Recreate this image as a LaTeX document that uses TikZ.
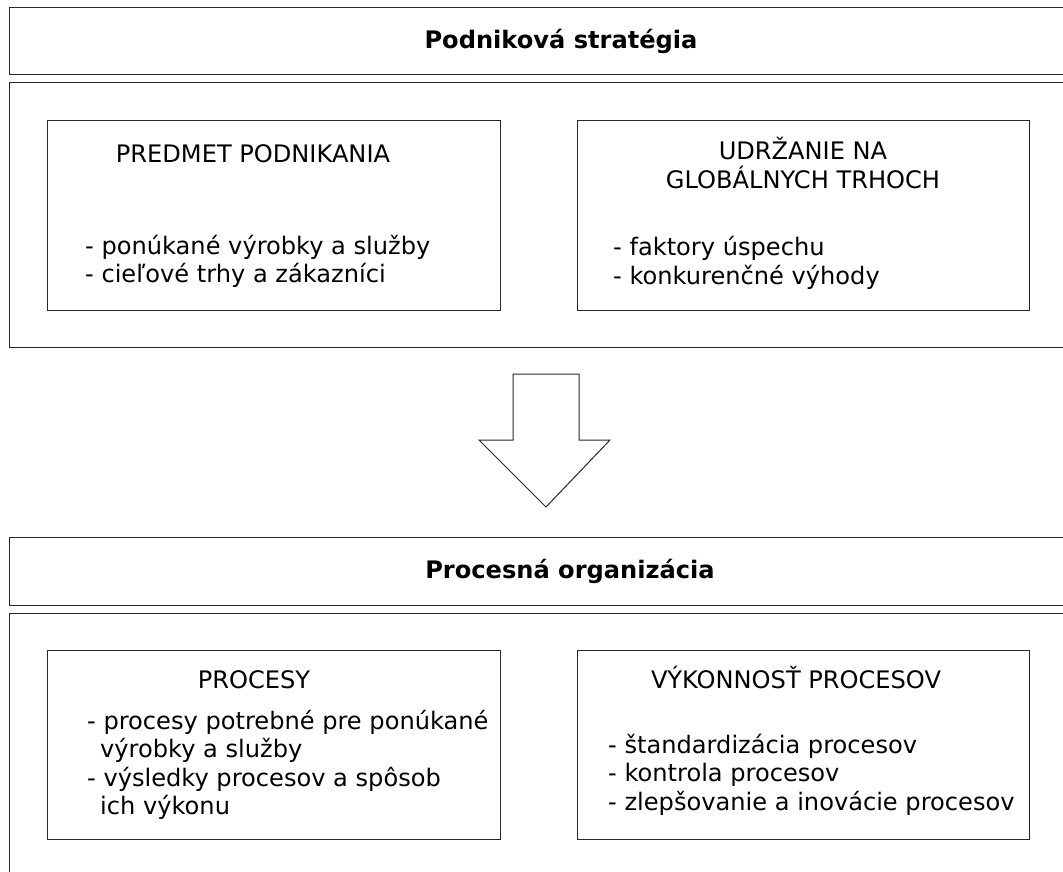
\documentclass[tikz,border=0pt]{standalone}
\usepackage{fontspec}
\setmainfont{DejaVu Sans}
\usetikzlibrary{positioning}
\definecolor{lineGray}{RGB}{40,40,40}
\tikzset{
  outerbox/.style={draw=lineGray, line width=1pt, inner sep=0pt},
  titlebox/.style={outerbox, font=\bfseries},
  innerbox/.style={draw=lineGray, line width=1pt, inner sep=0pt},
  txt/.style={inner sep=0pt, anchor=base west},
  head/.style={inner sep=0pt, anchor=base}
}

\begin{document}
\begin{tikzpicture}[
  x=1pt, y=-1pt,
  every node/.append style={font=\fontsize{24.1}{28.5}\selectfont}
]
\useasboundingbox (0,0) rectangle (1063,872);
\clip (0,0) rectangle (1063,872);

% Strategy part
\node[titlebox, minimum width=1106pt, minimum height=67pt] (strat) at (562,41.5) {};
\node[head, font=\fontsize{24.1}{28.5}\selectfont\bfseries] (strattxt) at (561,48.5) {Podniková stratégia};
\node[outerbox, minimum width=1106pt, minimum height=264pt] (stratbody) at (562,215) {};

\node[innerbox, minimum width=453pt, minimum height=189pt] (predmet) at (273.5,215.5) {};
\node[head] (predmethead) at (253,162) {PREDMET PODNIKANIA};
\node[txt] (predmet1) at (85,254) {- ponúkané výrobky a služby};
\node[txt] (predmet2) at (85,282.5) {- cieľové trhy a zákazníci};

\node[innerbox, minimum width=452pt, minimum height=189pt] (udrz) at (803,215.5) {};
\node[head] (udrzhead1) at (803,160) {UDRŽANIE NA};
\node[head] (udrzhead2) at (803,189) {GLOBÁLNYCH TRHOCH};
\node[txt] (udrz1) at (613,255.5) {- faktory úspechu};
\node[txt] (udrz2) at (613,284) {- konkurenčné výhody};

% Block arrow
\draw[draw=lineGray, line width=1pt, fill=white]
  (513,374) -- (579,374) -- (579,440) -- (610,440) -- (546,507)
  -- (479,440) -- (513,440) -- cycle;

% Process part
\node[titlebox, minimum width=1122pt, minimum height=68pt] (proc) at (570,571) {};
\node[head, font=\fontsize{24.1}{28.5}\selectfont\bfseries] (proctxt) at (570,578.5) {Procesná organizácia};
\node[outerbox, minimum width=1106pt, minimum height=300pt] (procbody) at (562,763) {};

\node[innerbox, minimum width=453pt, minimum height=189pt] (procesy) at (273.5,744.5) {};
\node[head] (procesyhead) at (254,688) {PROCESY};
\node[txt] (procesy1) at (87,729) {- procesy potrebné pre ponúkané};
\node[txt] (procesy2) at (100,757.5) {výrobky a služby};
\node[txt] (procesy3) at (87,786) {- výsledky procesov a spôsob};
\node[txt] (procesy4) at (100,814.5) {ich výkonu};

\node[innerbox, minimum width=452pt, minimum height=189pt] (vykon) at (803,744.5) {};
\node[head] (vykonhead) at (796,688) {VÝKONNOSŤ PROCESOV};
\node[txt] (vykon1) at (608,753) {- štandardizácia procesov};
\node[txt] (vykon2) at (608,781.5) {- kontrola procesov};
\node[txt] (vykon3) at (608,810) {- zlepšovanie a inovácie procesov};
\end{tikzpicture}
\end{document}
